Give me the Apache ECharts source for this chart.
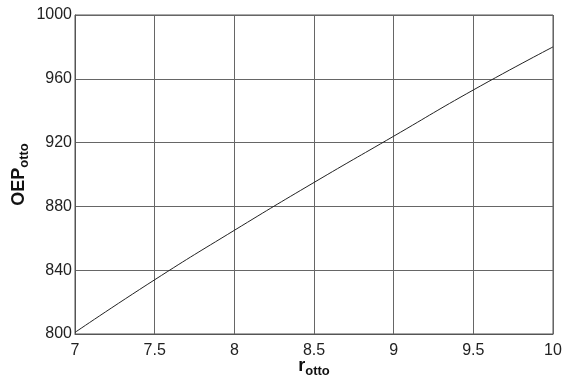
<!DOCTYPE html>
<html>
<head>
<meta charset="utf-8">
<script src="https://cdn.jsdelivr.net/npm/echarts@6/dist/echarts.min.js"></script>
<style>
  html, body { margin: 0; padding: 0; background: #fff; }
  #chart { width: 566px; height: 381px; }
</style>
</head>
<body>
<div id="chart"></div>
<script>
// Compression ratio values along the x axis
const compressionRatio = [7, 7.5, 8, 8.5, 9, 9.5, 10];
// Corresponding OEP values
const oepValues = [801, 834, 865, 895, 924, 953, 980];

const xTicks = { min: 7, max: 10, interval: 0.5 };
const yTicks = { min: 800, max: 1000, interval: 40 };

const chart = echarts.init(document.getElementById('chart'), null, { renderer: 'canvas' });

const labelFont = { fontFamily: 'Liberation Sans, Arial, sans-serif', fontSize: 16, color: '#222' };
const gridLine = { lineStyle: { color: '#666', width: 1 } };
const nameRich = {
  b: { fontFamily: 'Liberation Sans, Arial, sans-serif', fontWeight: 'bold', fontSize: 18, color: '#111' },
  s: { fontFamily: 'Liberation Sans, Arial, sans-serif', fontWeight: 'bold', fontSize: 13, color: '#111', padding: [10, 0, 0, 0] }
};

chart.setOption({
  animation: false,
  backgroundColor: '#fff',
  grid: {
    left: 75, right: 13, top: 15, bottom: 47,
    outerBoundsMode: 'none',
    containLabel: false,
    show: true, borderColor: '#555', borderWidth: 1, backgroundColor: 'transparent'
  },
  xAxis: {
    type: 'value',
    min: xTicks.min, max: xTicks.max, interval: xTicks.interval,
    axisLine: { show: true, lineStyle: { color: '#555' } },
    axisTick: { show: false },
    splitLine: Object.assign({ show: true }, gridLine),
    axisLabel: Object.assign({ margin: 9, formatter: v => String(v) }, labelFont),
    name: '{b|r}{s|otto}',
    nameLocation: 'middle',
    nameGap: 21,
    nameMoveOverlap: false,
    nameTextStyle: { rich: nameRich }
  },
  yAxis: {
    type: 'value',
    min: yTicks.min, max: yTicks.max, interval: yTicks.interval,
    axisLine: { show: true, lineStyle: { color: '#555' } },
    axisTick: { show: false },
    splitLine: Object.assign({ show: true }, gridLine),
    axisLabel: Object.assign({ margin: 3, formatter: v => String(v) }, labelFont),
    name: '{b|OEP}{s|otto}',
    nameLocation: 'middle',
    nameGap: 44,
    nameMoveOverlap: false,
    nameRotate: 90,
    nameTextStyle: { rich: nameRich }
  },
  series: [{
    type: 'line',
    data: compressionRatio.map((r, i) => [r, oepValues[i]]),
    smooth: true,
    showSymbol: false,
    lineStyle: { color: '#222', width: 1 }
  }]
});
</script>
</body>
</html>
